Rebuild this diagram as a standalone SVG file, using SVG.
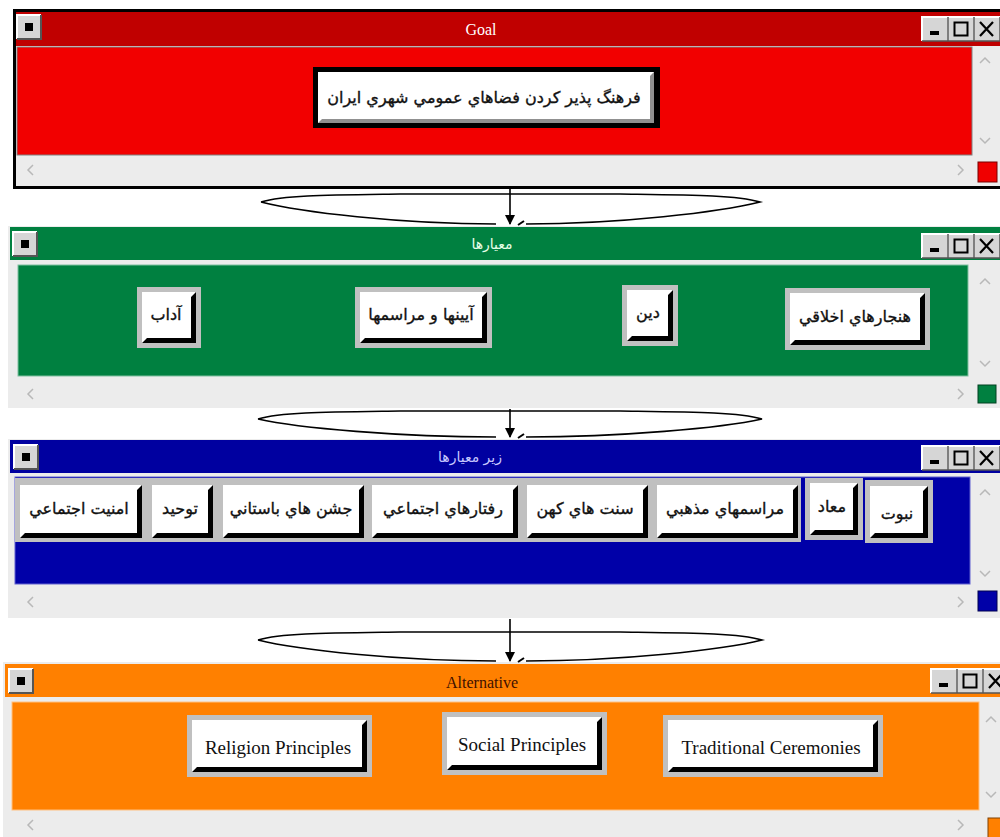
<svg xmlns="http://www.w3.org/2000/svg" width="1000" height="837" viewBox="0 0 1000 837">
<defs>
<style>
.winbg{fill:#ececec}
.frame{fill:#c0c0c0}
.bev{fill:#000}
.face{fill:#fff}
.fa{font-family:"DejaVu Sans","Noto Sans",sans-serif;font-size:16px;fill:#111;stroke:#111;stroke-width:0.35;text-anchor:middle}
.en{font-family:"Liberation Serif",serif;font-size:19px;fill:#111;text-anchor:middle}
.ttl{font-family:"Liberation Serif",serif;font-size:16px;text-anchor:middle}
.ttlfa{font-family:"DejaVu Sans","Noto Sans",sans-serif;font-size:14px;text-anchor:middle}
.chev{fill:none;stroke:#b8b8b8;stroke-width:1.5}
.lens{fill:none;stroke:#000;stroke-width:1.6}
.arrow{fill:none;stroke:#000;stroke-width:1.6}
</style>
<marker id="ah" markerUnits="userSpaceOnUse" markerWidth="10" markerHeight="12" refX="9" refY="5" orient="auto">
<path d="M0,0 L10,5 L0,10 z" fill="#000"/>
</marker>
<g id="sysbtn">
<rect x="0" y="0" width="24" height="24" fill="#d6d6d6"/>
<path d="M0,24 L0,0 L24,0" fill="none" stroke="#fff" stroke-width="2"/>
<path d="M24,0 L24,24 L0,24" fill="none" stroke="#555" stroke-width="2"/>
<rect x="8" y="8" width="8" height="8" fill="#000"/>
</g>
<g id="ctrlbtns">
<rect x="0" y="0" width="26" height="24" fill="#d6d6d6"/>
<rect x="26" y="0" width="26" height="24" fill="#d6d6d6"/>
<rect x="52" y="0" width="26" height="24" fill="#d6d6d6"/>
<path d="M0,24 L0,0 L26,0 M26,24 L26,0 L52,0 M52,24 L52,0 L78,0" fill="none" stroke="#fff" stroke-width="2"/>
<path d="M26,0 L26,24 L0,24 M52,0 L52,24 L26,24 M78,0 L78,24 L52,24" fill="none" stroke="#555" stroke-width="1.5"/>
<rect x="8" y="14" width="9" height="4" fill="#000"/>
<rect x="32.5" y="5.5" width="13" height="13" fill="none" stroke="#000" stroke-width="2"/>
<path d="M58,5 L71,19 M71,5 L58,19" stroke="#000" stroke-width="2.2"/>
</g>
</defs>

<!-- Goal window -->
<g id="goal-window">
<rect x="14.5" y="10.5" width="990" height="177" class="winbg" stroke="#000" stroke-width="3"/>
<rect x="16" y="12" width="984" height="34" fill="#c00000"/>
<use href="#sysbtn" x="17" y="15"/>
<use href="#ctrlbtns" x="922" y="17"/>
<text x="481" y="35" class="ttl" fill="#fff">Goal</text>
<rect x="17" y="47" width="955" height="108" fill="#f20000" stroke="#808080" stroke-width="1"/>
<path d="M980,63 L985,58 L990,63 M980,138 L985,143 L990,138" class="chev"/>
<path d="M33,165 L28,170 L33,175 M958,165 L963,170 L958,175" class="chev"/>
<rect x="978" y="162" width="19" height="20" fill="#f00000" stroke="#700" stroke-width="1"/>
</g>
<g id="goal">
<rect x="313" y="67" width="347" height="61" fill="#000"/>
<rect x="318" y="72" width="336" height="51" fill="#909090"/>
<polygon points="318,72 654,72 650,76 650,119 322,119 318,123" class="face"/>
<text x="484" y="103" class="fa">فرهنگ پذير كردن فضاهاي عمومي شهري ايران</text>
</g>

<!-- Criteria window -->
<g id="criteria-window">
<rect x="8" y="226" width="992" height="182" class="winbg"/>
<rect x="10" y="227" width="990" height="33" fill="#008040"/>
<use href="#sysbtn" x="13" y="232"/>
<use href="#ctrlbtns" x="922" y="234"/>
<text x="492" y="249" class="ttlfa" fill="#e8ffe8">معيارها</text>
<rect x="18" y="265" width="950" height="111" fill="#008040" stroke="#7fbf9f" stroke-width="1"/>
<path d="M980,284 L985,279 L990,284 M980,361 L985,366 L990,361" class="chev"/>
<path d="M33,389 L28,394 L33,399 M958,389 L963,394 L958,399" class="chev"/>
<rect x="978" y="385" width="18" height="18" fill="#008040" stroke="#004020" stroke-width="1"/>
</g>
<g id="c-adab">
<rect x="137" y="287" width="64" height="61" class="frame"/>
<rect x="142" y="292" width="54" height="51" class="bev"/>
<polygon points="142,292 196,292 191,297 191,338 147,338 142,343" class="face"/>
<text x="166" y="320" class="fa">آداب</text>
</g>
<g id="c-ayinha">
<rect x="355" y="287" width="137" height="61" class="frame"/>
<rect x="360" y="292" width="127" height="51" class="bev"/>
<polygon points="360,292 487,292 482,297 482,338 365,338 360,343" class="face"/>
<text x="421" y="320" class="fa">آيينها و مراسمها</text>
</g>
<g id="c-din">
<rect x="622" y="285" width="56" height="61" class="frame"/>
<rect x="627" y="290" width="46" height="51" class="bev"/>
<polygon points="627,290 673,290 668,295 668,336 632,336 627,341" class="face"/>
<text x="648" y="318" class="fa">دين</text>
</g>
<g id="c-hanjar">
<rect x="785" y="288" width="145" height="62" class="frame"/>
<rect x="790" y="293" width="135" height="52" class="bev"/>
<polygon points="790,293 925,293 920,298 920,340 795,340 790,345" class="face"/>
<text x="855" y="322" class="fa">هنجارهاي اخلاقي</text>
</g>

<!-- Sub-criteria window -->
<g id="subcriteria-window">
<rect x="8" y="439" width="992" height="179" class="winbg"/>
<rect x="10" y="440" width="990" height="33" fill="#0000a0"/>
<use href="#sysbtn" x="14" y="445"/>
<use href="#ctrlbtns" x="922" y="446"/>
<text x="470" y="462" class="ttlfa" fill="#c8c8ff">زير معيارها</text>
<rect x="15" y="477" width="955" height="107" fill="#0000a8" stroke="#6060d0" stroke-width="1"/>
<path d="M980,495 L985,490 L990,495 M980,571 L985,576 L990,571" class="chev"/>
<path d="M33,597 L28,602 L33,607 M958,597 L963,602 L958,607" class="chev"/>
<rect x="978" y="591" width="19" height="20" fill="#0000a8" stroke="#000050" stroke-width="1"/>
<rect x="15" y="478" width="786" height="64" class="frame"/>
</g>
<g id="s-amniat">
<rect x="20" y="485" width="122" height="53" class="bev"/>
<polygon points="20,485 142,485 137,490 137,533 25,533 20,538" class="face"/>
<text x="79" y="514" class="fa">امنيت اجتماعي</text>
</g>
<g id="s-tohid">
<rect x="152" y="485" width="61" height="53" class="bev"/>
<polygon points="152,485 213,485 208,490 208,533 157,533 152,538" class="face"/>
<text x="180" y="514" class="fa">توحيد</text>
</g>
<g id="s-jashn">
<rect x="223" y="485" width="141" height="53" class="bev"/>
<polygon points="223,485 364,485 359,490 359,533 228,533 223,538" class="face"/>
<text x="291" y="514" class="fa">جشن هاي باستاني</text>
</g>
<g id="s-raftar">
<rect x="372" y="485" width="146" height="53" class="bev"/>
<polygon points="372,485 518,485 513,490 513,533 377,533 372,538" class="face"/>
<text x="443" y="514" class="fa">رفتارهاي اجتماعي</text>
</g>
<g id="s-sonnat">
<rect x="527" y="485" width="121" height="53" class="bev"/>
<polygon points="527,485 648,485 643,490 643,533 532,533 527,538" class="face"/>
<text x="585" y="514" class="fa">سنت هاي كهن</text>
</g>
<g id="s-marasem">
<rect x="657" y="485" width="141" height="53" class="bev"/>
<polygon points="657,485 798,485 793,490 793,533 662,533 657,538" class="face"/>
<text x="725" y="514" class="fa">مراسمهاي مذهبي</text>
</g>
<g id="s-maad">
<rect x="805" y="478" width="58" height="62" class="frame"/>
<rect x="810" y="483" width="48" height="52" class="bev"/>
<polygon points="810,483 858,483 853,488 853,530 815,530 810,535" class="face"/>
<text x="832" y="512" class="fa">معاد</text>
</g>
<g id="s-nobovvat">
<rect x="865" y="480" width="68" height="63" class="frame"/>
<rect x="870" y="486" width="58" height="52" class="bev"/>
<polygon points="870,486 928,486 923,491 923,533 875,533 870,538" class="face"/>
<text x="897" y="519" class="fa">نبوت</text>
</g>

<!-- Alternative window -->
<g id="alternative-window">
<rect x="3" y="662" width="997" height="175" class="winbg"/>
<rect x="5" y="664" width="995" height="33" fill="#ff8000"/>
<use href="#sysbtn" x="9" y="669"/>
<use href="#ctrlbtns" x="931" y="669"/>
<text x="482" y="688" class="ttl" fill="#401000">Alternative</text>
<rect x="12" y="702" width="967" height="108" fill="#ff8000" stroke="#ffc080" stroke-width="1"/>
<path d="M986,722 L991,717 L996,722 M986,792 L991,797 L996,792" class="chev"/>
<path d="M33,820 L28,825 L33,830 M958,820 L963,825 L958,830" class="chev"/>
<rect x="988" y="818" width="14" height="20" fill="#ff8000" stroke="#804000" stroke-width="1"/>
</g>
<g id="a-religion">
<rect x="187" y="715" width="185" height="62" class="frame"/>
<rect x="192" y="720" width="175" height="52" class="bev"/>
<polygon points="192,720 367,720 362,725 362,767 197,767 192,772" class="face"/>
<text x="278" y="754" class="en">Religion Principles</text>
</g>
<g id="a-social">
<rect x="442" y="712" width="165" height="63" class="frame"/>
<rect x="447" y="717" width="155" height="53" class="bev"/>
<polygon points="447,717 602,717 597,722 597,765 452,765 447,770" class="face"/>
<text x="522" y="751" class="en">Social Principles</text>
</g>
<g id="a-traditional">
<rect x="663" y="715" width="220" height="62" class="frame"/>
<rect x="668" y="720" width="210" height="52" class="bev"/>
<polygon points="668,720 878,720 873,725 873,767 673,767 668,772" class="face"/>
<text x="771" y="754" class="en">Traditional Ceremonies</text>
</g>

<!-- Connectors -->
<g id="connectors">
<path class="lens" d="M261,202 C285,195 330,195 400,194 L620,194 C690,195 735,195 760,202 C720,212 620,224 526,224 M496,224 C400,224 300,212 261,202"/>
<line x1="510" y1="189" x2="510" y2="224" class="arrow" marker-end="url(#ah)"/>
<path d="M518,225 L524,221" stroke="#000" stroke-width="2"/>

<path class="lens" d="M258,419 C282,412 330,412 400,411 L620,411 C690,412 737,412 762,419 C722,428 620,437 526,437 M496,437 C400,437 298,428 258,419"/>
<line x1="510" y1="409" x2="510" y2="437" class="arrow" marker-end="url(#ah)"/>
<path d="M518,438 L524,434" stroke="#000" stroke-width="2"/>

<path class="lens" d="M258,640 C282,633 330,633 400,632 L620,632 C690,633 737,633 762,640 C722,650 620,661 526,661 M496,661 C400,661 298,650 258,640"/>
<line x1="510" y1="619" x2="510" y2="661" class="arrow" marker-end="url(#ah)"/>
<path d="M518,662 L524,658" stroke="#000" stroke-width="2"/>
</g>
</svg>
